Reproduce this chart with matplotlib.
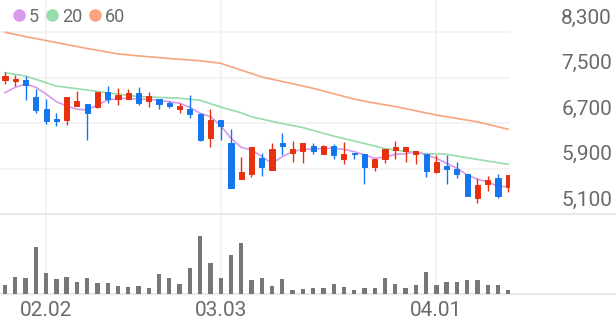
import numpy as np
import matplotlib
matplotlib.use("Agg")
import matplotlib.pyplot as plt
from matplotlib.lines import Line2D

plt.rcParams['font.family'] = ['Roboto', 'DejaVu Sans']

# daily candles (50 trading days)
opens = [7460, 7440, 7460, 7150, 6940, 6770, 6760, 7000, 7030, 6980,
         7240, 7120, 7130, 7220, 7080, 7120, 7050, 6950, 6950, 6860,
         6430, 6750, 6350, 5710, 5800, 6090, 5870, 6350, 6170, 6210,
         6300, 6150, 6300, 6070, 6180, 6150, 5920, 6060, 6230, 6210,
         6150, 6150, 5830, 5950, 5900, 5800, 5380, 5630, 5730, 5580]
highs = [7600, 7540, 7530, 7290, 7120, 6870, 7150, 7270, 7030, 7250,
         7350, 7310, 7290, 7330, 7240, 7120, 7080, 7060, 7190, 6880,
         6950, 6750, 6590, 6100, 6270, 6170, 6340, 6520, 6390, 6340,
         6340, 6310, 6330, 6360, 6180, 6150, 6070, 6240, 6390, 6270,
         6210, 6150, 6140, 6140, 6020, 5800, 5730, 5760, 5800, 5790]
lows = [7390, 7350, 7110, 6870, 6680, 6650, 6670, 7000, 6400, 6960,
        7060, 7020, 7130, 7010, 6990, 6940, 6960, 6880, 6780, 6390,
        6280, 6410, 5560, 5710, 5750, 5760, 5870, 6140, 6020, 6000,
        6150, 6150, 6060, 5980, 6060, 5630, 5860, 6000, 6060, 6020,
        5980, 5750, 5820, 5630, 5730, 5410, 5290, 5510, 5390, 5480]
closes = [7530, 7470, 7360, 6930, 6740, 6740, 7150, 7080, 6880, 7250,
          7120, 7190, 7230, 7060, 7170, 7030, 7000, 7000, 6860, 6410,
          6750, 6650, 5560, 5830, 6270, 5920, 6240, 6300, 6250, 6340,
          6210, 6300, 6130, 6150, 6150, 5920, 6070, 6240, 6270, 6270,
          6210, 5860, 6020, 5890, 5800, 5410, 5610, 5700, 5420, 5790]
volumes = [870, 1730, 1600, 4700, 2070, 1470, 1700, 1200, 1570, 1130,
           1100, 830, 670, 830, 600, 1970, 1570, 1030, 2570, 5830,
           3070, 1630, 3930, 5070, 1430, 1630, 800, 1470, 400, 470,
           600, 570, 1000, 700, 400, 600, 630, 1570, 970, 570,
           900, 2200, 900, 1170, 1200, 1430, 1430, 930, 930, 370]

# moving averages
ma5 = [7233, 7328, 7386, 7328, 7210, 7075, 7000, 6941, 6929, 7017,
       7105, 7128, 7135, 7117, 7117, 7100, 7075, 7047, 6977, 6871,
       6811, 6653, 6432, 6273, 6226, 6108, 5992, 6108, 6196, 6238,
       6238, 6255, 6255, 6238, 6196, 6138, 6080, 6098, 6150, 6160,
       6196, 6138, 6080, 5992, 5904, 5786, 5711, 5668, 5581, 5581]
ma20_idx = [0, 2, 5, 8, 10, 13, 17, 19, 21, 23, 24, 27, 29, 32, 35, 37, 39, 41, 43, 45, 47, 49]
ma20 = [7585, 7527, 7350, 7280, 7230, 7165, 7135, 7100, 6980, 6880, 6810,
        6690, 6620, 6470, 6340, 6250, 6200, 6160, 6150, 6090, 6030, 5975]
ma60_idx = [0, 2, 4, 6, 8, 11, 13, 15, 17, 19, 21, 23, 25, 28, 30, 32, 34, 36, 38, 40, 42, 44, 46, 49]
ma60 = [8295, 8220, 8150, 8080, 8010, 7915, 7880, 7850, 7820, 7795, 7750, 7630, 7510,
        7390, 7310, 7215, 7120, 7050, 6990, 6915, 6840, 6780, 6720, 6590]

price_ticks = [8300, 7500, 6700, 5900, 5100]
date_pos = [4, 21, 42]
date_labels = ['02.02', '03.03', '04.01']

RED = '#e8300e'
BLUE = '#1476ee'
C_MA5 = '#d99aec'
C_MA20 = '#97dcab'
C_MA60 = '#f8a47e'
GRID = '#f1f1f1'
TEXT = '#6a6a6a'

W, H = 616, 321
fig = plt.figure(figsize=(W / 100, H / 100), dpi=100)

xlo = -0.487
xhi_main = 49.17
xhi_full = 59.49

# price panel
ax = fig.add_axes([0, 1 - 214 / H, 510 / W, 214 / H])
ax.set_xlim(xlo, xhi_main)
ax.set_ylim(5100, 8863)
for s in ax.spines.values():
    s.set_visible(False)
ax.set_xticks([])
ax.set_yticks([])
ax.hlines(price_ticks[:-1], xlo, xhi_main, color=GRID, lw=1.2, zorder=0)
ax.vlines(date_pos, 5100, 8863, color=GRID, lw=1.2, zorder=0)

x = np.arange(len(opens))
o = np.array(opens)
c = np.array(closes)
colors = [RED if cc >= oo else BLUE for oo, cc in zip(o, c)]
ax.vlines(x, lows, highs, color=colors, lw=1.0, zorder=3)
ax.bar(x, np.abs(c - o), bottom=np.minimum(o, c), width=0.5, color=colors,
       edgecolor=colors, linewidth=0.7, zorder=4)

ax.plot(ma60_idx, ma60, color=C_MA60, lw=1.2, zorder=2)
ax.plot(ma20_idx, ma20, color=C_MA20, lw=1.2, zorder=2)
ax.plot(x, ma5, color=C_MA5, lw=1.2, zorder=2)

handles = [Line2D([], [], marker='o', linestyle='', color=col, markersize=8)
           for col in (C_MA5, C_MA20, C_MA60)]
ax.legend(handles, ['5', '20', '60'], loc='upper left', ncol=3, frameon=False,
          bbox_to_anchor=(-0.012, 1.04), handletextpad=0.05, columnspacing=0.2,
          handlelength=1.0, fontsize=13, labelcolor=TEXT)

for v in price_ticks:
    ax.annotate(f'{v:,}', xy=(612 / W, v), xycoords=('figure fraction', 'data'),
                xytext=(0, 14), textcoords='offset pixels', ha='right', va='center',
                fontsize=15, color=TEXT, annotation_clip=False)

# volume panel
vax = fig.add_axes([0, 27 / H, 1, 80 / H])
vax.set_xlim(xlo, xhi_full)
vax.set_ylim(0, 8000)
for side in ('left', 'right'):
    vax.spines[side].set_visible(False)
for side in ('top', 'bottom'):
    vax.spines[side].set_color('#e9e9e9')
    vax.spines[side].set_linewidth(1.6)
vax.set_yticks([])
vax.vlines(date_pos, 0, 8000, color=GRID, lw=1.2, zorder=0)
vax.bar(x, volumes, width=0.42, color='#777777', zorder=3)
vax.set_xticks(date_pos)
vax.set_xticklabels(date_labels, fontsize=15, color=TEXT)
vax.tick_params(axis='x', length=0, pad=5)

fig.savefig('out.png', dpi=100, facecolor='white')
